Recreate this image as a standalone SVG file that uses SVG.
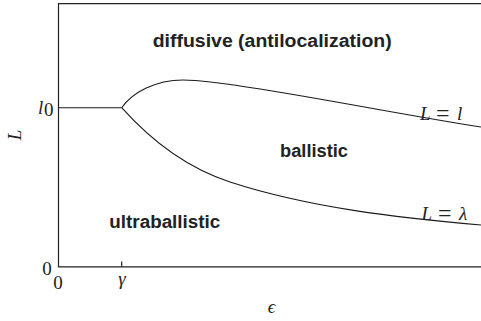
<svg xmlns="http://www.w3.org/2000/svg" width="481" height="321" viewBox="0 0 481 321">
<style>
.ax{fill:none;stroke:#222;stroke-width:1.2}
.cv{fill:none;stroke:#1a1a1a;stroke-width:1.1}
.lab{font-family:"Liberation Sans","DejaVu Sans",sans-serif;font-weight:bold;font-size:18px;fill:#222}
.m{font-family:"Liberation Serif","DejaVu Serif",serif;font-style:italic;font-size:19px;fill:#222}
.n{font-family:"Liberation Serif","DejaVu Serif",serif;font-style:normal;font-size:19px;fill:#222}
.eq{font-family:"Liberation Serif","DejaVu Serif",serif;font-size:24px;fill:#222}
</style>
<rect width="481" height="321" fill="#fff"/>
<g id="axes">
<path class="ax" d="M481,3.7 H58.5 V266.8 H481"/>
<path class="ax" d="M121.7,266.8 V261.5"/>
<text class="n" x="47" y="275" text-anchor="middle">0</text>
<text class="n" x="58" y="289" text-anchor="middle">0</text>
<text class="m" x="122" y="285" text-anchor="middle">γ</text>
<text class="m" x="271.5" y="313" text-anchor="middle">ϵ</text>
<text class="m" x="0" y="0" text-anchor="middle" transform="translate(21,135) rotate(-90)">L</text>
<text class="m" x="38" y="114">l</text>
<text class="n" x="44" y="116" font-size="13">0</text>
</g>
<g id="connectors">
<path class="cv" d="M58.5,107.7 H121.7"/>
<path id="upper" class="cv" d="M121.7,107.7 C132,93 155,80 183,80 C230,80 400,115 481,127"/>
<path id="lower" class="cv" d="M121.7,107.7 C155,145 190,169 230,182 C310,208 400,218 481,225"/>
</g>
<g id="diffusive"><text class="lab" x="152.7" y="46.7" textLength="239" lengthAdjust="spacingAndGlyphs">diffusive (antilocalization)</text></g>
<g id="ballistic"><text class="lab" x="280" y="156.7" textLength="68" lengthAdjust="spacingAndGlyphs">ballistic</text></g>
<g id="ultraballistic"><text class="lab" x="109.3" y="228.3" textLength="111" lengthAdjust="spacingAndGlyphs">ultraballistic</text></g>
<g id="label-Ll">
<text class="m" x="420" y="120">L</text>
<text class="eq" x="436" y="121">=</text>
<text class="m" x="457" y="120">l</text>
</g>
<g id="label-Llambda">
<text class="m" x="421.5" y="220">L</text>
<text class="eq" x="438" y="221">=</text>
<text class="m" x="459" y="220">λ</text>
</g>
</svg>
